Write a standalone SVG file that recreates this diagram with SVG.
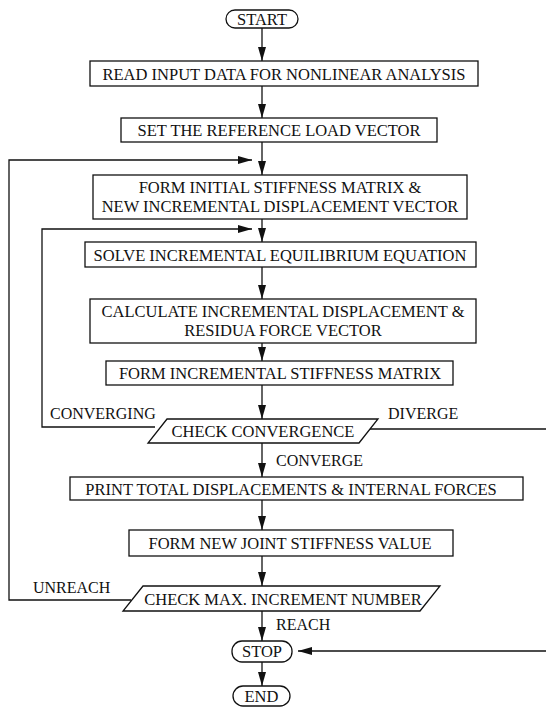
<svg xmlns="http://www.w3.org/2000/svg" width="546" height="723" viewBox="0 0 546 723">
<defs>
<marker id="ah" markerUnits="userSpaceOnUse" markerWidth="14" markerHeight="8" viewBox="0 0 14 8" refX="14" refY="4" orient="auto">
<path d="M0,0 L14,4 L0,8 Z" fill="#111"/>
</marker>
</defs>
<style>
.box{fill:#fff;stroke:#111;stroke-width:1.3}
.t{font-family:"Liberation Serif","Times New Roman",serif;font-size:16.5px;fill:#111;text-anchor:middle}
.l{font-family:"Liberation Serif","Times New Roman",serif;font-size:16px;fill:#111}
.c{fill:none;stroke:#111;stroke-width:1.3}
</style>
<rect width="546" height="723" fill="#fff"/>
<g id="connectors">
<line class="c" x1="262" y1="28" x2="262" y2="61" marker-end="url(#ah)"/>
<line class="c" x1="262" y1="86" x2="262" y2="118" marker-end="url(#ah)"/>
<line class="c" x1="262" y1="142" x2="262" y2="175" marker-end="url(#ah)"/>
<line class="c" x1="262" y1="219" x2="262" y2="242" marker-end="url(#ah)"/>
<line class="c" x1="262" y1="267" x2="262" y2="299" marker-end="url(#ah)"/>
<line class="c" x1="262" y1="343" x2="262" y2="361" marker-end="url(#ah)"/>
<line class="c" x1="262" y1="385" x2="262" y2="419" marker-end="url(#ah)"/>
<line class="c" x1="262" y1="443" x2="262" y2="477" marker-end="url(#ah)"/>
<line class="c" x1="262" y1="500" x2="262" y2="530" marker-end="url(#ah)"/>
<line class="c" x1="262" y1="556" x2="262" y2="586" marker-end="url(#ah)"/>
<line class="c" x1="262" y1="611" x2="262" y2="641" marker-end="url(#ah)"/>
<line class="c" x1="262" y1="662" x2="262" y2="686" marker-end="url(#ah)"/>
<polyline class="c" points="131,600 9,600 9,160 252,160" marker-end="url(#ah)"/>
<polyline class="c" points="155,427 42,427 42,229 252,229" marker-end="url(#ah)"/>
<line class="c" x1="368" y1="429" x2="546" y2="429"/>
<line class="c" x1="546" y1="651" x2="298" y2="651" marker-end="url(#ah)"/>
</g>
<g id="start">
<rect class="box" x="226" y="10" width="72" height="18" rx="9"/>
<text class="t" x="262" y="24.5">START</text>
</g>
<g id="read-input">
<rect class="box" x="90" y="61" width="388" height="25"/>
<text class="t" x="284" y="79.5">READ INPUT DATA FOR NONLINEAR ANALYSIS</text>
</g>
<g id="set-load">
<rect class="box" x="121" y="118" width="316" height="24"/>
<text class="t" x="279" y="136">SET THE REFERENCE LOAD VECTOR</text>
</g>
<g id="form-initial">
<rect class="box" x="93" y="175" width="374" height="44"/>
<text class="t" x="280" y="192.5">FORM INITIAL STIFFNESS MATRIX &amp;</text>
<text class="t" x="280" y="211.5">NEW INCREMENTAL DISPLACEMENT VECTOR</text>
</g>
<g id="solve">
<rect class="box" x="85" y="242" width="391" height="25"/>
<text class="t" x="280" y="260.5">SOLVE INCREMENTAL EQUILIBRIUM EQUATION</text>
</g>
<g id="calculate">
<rect class="box" x="90" y="299" width="386" height="44"/>
<text class="t" x="283" y="316.5">CALCULATE INCREMENTAL DISPLACEMENT &amp;</text>
<text class="t" x="283" y="335.5">RESIDUA FORCE VECTOR</text>
</g>
<g id="form-incremental">
<rect class="box" x="106" y="361" width="347" height="24"/>
<text class="t" x="280" y="379">FORM INCREMENTAL STIFFNESS MATRIX</text>
</g>
<g id="check-convergence">
<polygon class="box" points="167,419 378,419 359,443 148,443"/>
<text class="t" x="263" y="437">CHECK CONVERGENCE</text>
</g>
<g id="print">
<rect class="box" x="70" y="477" width="453" height="23"/>
<text class="t" x="291" y="494.5">PRINT TOTAL DISPLACEMENTS &amp; INTERNAL FORCES</text>
</g>
<g id="form-joint">
<rect class="box" x="129" y="530" width="324" height="26"/>
<text class="t" x="290" y="548.5">FORM NEW JOINT STIFFNESS VALUE</text>
</g>
<g id="check-max">
<polygon class="box" points="143,586 440,586 420,611 123,611"/>
<text class="t" x="283" y="604.5">CHECK MAX. INCREMENT NUMBER</text>
</g>
<g id="stop">
<rect class="box" x="232" y="641" width="60" height="21" rx="10"/>
<text class="t" x="262" y="657">STOP</text>
</g>
<g id="end">
<rect class="box" x="233" y="686" width="57" height="20" rx="10"/>
<text class="t" x="261.5" y="701.5">END</text>
</g>
<g id="labels">
<text class="l" x="50" y="419">CONVERGING</text>
<text class="l" x="388" y="419">DIVERGE</text>
<text class="l" x="276" y="466">CONVERGE</text>
<text class="l" x="33" y="593">UNREACH</text>
<text class="l" x="276" y="630">REACH</text>
</g>
</svg>
